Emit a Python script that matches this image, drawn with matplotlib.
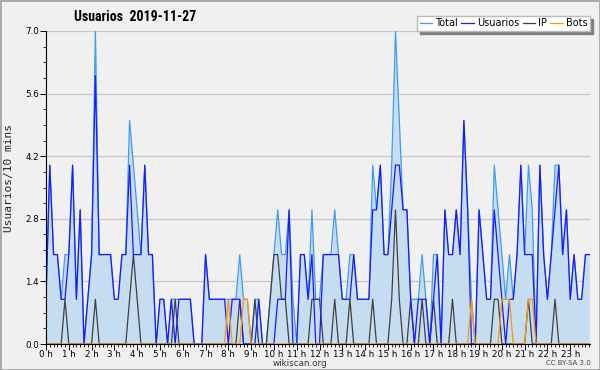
import numpy as np
import matplotlib
matplotlib.use("Agg")
import matplotlib.pyplot as plt
from matplotlib.patches import Rectangle
from matplotlib.ticker import MultipleLocator, FixedLocator
from matplotlib import font_manager

# 10-minute slots, 2019-11-27
total = [1, 4, 2, 2, 1, 2, 2, 4, 1, 3,
         0, 1, 2, 7, 2, 2, 2, 2, 1, 1,
         2, 2, 5, 4, 3, 2, 4, 2, 2, 0,
         1, 1, 0, 1, 1, 1, 1, 1, 1, 0,
         0, 0, 2, 1, 1, 1, 1, 1, 1, 1,
         1, 2, 1, 1, 0, 1, 1, 0, 0, 1,
         2, 3, 2, 2, 3, 1, 0, 2, 2, 1,
         3, 1, 1, 2, 2, 2, 3, 2, 1, 1,
         2, 2, 1, 1, 1, 1, 4, 3, 4, 2,
         2, 4, 7, 5, 3, 3, 1, 1, 1, 2,
         1, 0, 2, 2, 0, 3, 2, 2, 3, 2,
         5, 3, 1, 0, 3, 2, 1, 1, 4, 3,
         2, 1, 2, 1, 2, 4, 2, 4, 3, 0,
         4, 2, 1, 2, 4, 4, 2, 3, 1, 2,
         1, 1, 2, 2]
usuarios = [1, 4, 2, 2, 1, 1, 2, 4, 1, 3,
            0, 1, 2, 6, 2, 2, 2, 2, 1, 1,
            2, 2, 4, 2, 2, 2, 4, 2, 2, 0,
            1, 1, 0, 1, 0, 1, 1, 1, 1, 0,
            0, 0, 2, 1, 1, 1, 1, 1, 0, 1,
            1, 1, 0, 0, 0, 0, 1, 0, 0, 0,
            0, 1, 1, 1, 3, 0, 0, 2, 2, 1,
            2, 0, 0, 2, 2, 2, 2, 2, 1, 1,
            1, 2, 1, 1, 1, 1, 3, 3, 4, 2,
            2, 3, 4, 4, 3, 3, 1, 0, 1, 1,
            1, 0, 1, 2, 0, 3, 2, 2, 3, 2,
            5, 3, 0, 0, 3, 2, 1, 1, 3, 2,
            1, 0, 1, 1, 2, 4, 2, 2, 2, 0,
            4, 2, 1, 2, 3, 4, 2, 3, 1, 2,
            1, 1, 2, 2]
ip = [0] * 144
for k, v in {5: 1, 13: 1, 22: 1, 23: 2, 24: 1, 34: 1, 51: 1, 55: 1, 59: 1, 60: 2,
             61: 2, 62: 1, 63: 1, 70: 1, 71: 1, 72: 1, 76: 1, 80: 1, 86: 1, 91: 1,
             92: 3, 93: 1, 96: 1, 99: 1, 102: 1, 107: 1, 118: 1, 119: 1, 127: 1,
             134: 1}.items():
    ip[k] = v
bots = [0] * 144
for k in [48, 52, 53, 112, 120, 121, 122, 127, 128]:
    bots[k] = 1

hours = [f"{h} h" for h in range(24)]
x = np.arange(144)

# narrow font for the title if one is there
names = {f.name for f in font_manager.fontManager.ttflist}
narrow = [f for f in ["Liberation Sans Narrow", "DejaVu Sans Condensed", "Roboto Condensed"]
          if f in names]
title_font = narrow[0] if narrow else "Roboto"
title_size = 10 if narrow else 8.5

bg = "#f0f0f0"
fig = plt.figure(figsize=(6, 3.7), dpi=100, facecolor=bg)
ax = fig.add_axes([46 / 600, 26 / 370, 544 / 600, 313 / 370])
ax.set_facecolor(bg)

ax.fill_between(x, total, color="#c6dcf0", lw=0)
ax.plot(x, total, color="#3d9cf5", lw=0.9, label="Total")
ax.plot(x, ip, color="#404040", lw=0.9, label="IP")
ax.plot(x, usuarios, color="#1a1aff", lw=0.9, label="Usuarios")
ax.plot(x, bots, color="#ff9900", lw=0.9, label="Bots")

ax.set_xlim(0, 143.2)
ax.set_ylim(0, 7)
ax.yaxis.set_major_locator(FixedLocator([0, 1.4, 2.8, 4.2, 5.6, 7.0]))
ax.yaxis.set_minor_locator(MultipleLocator(0.35))
ax.set_yticklabels(["0.0", "1.4", "2.8", "4.2", "5.6", "7.0"])
ax.set_xticks(np.arange(0, 144, 6))
ax.set_xticklabels(hours)
ax.xaxis.set_minor_locator(MultipleLocator(1))
ax.tick_params(axis="both", labelsize=6.3, colors="black", length=4, width=0.7, pad=1)
ax.tick_params(axis="x", pad=0)
ax.tick_params(axis="both", which="minor", length=2.5, width=0.6)
ax.grid(axis="y", color="#c8c8c8", lw=0.9)
ax.set_axisbelow(True)
for s in ["top", "right"]:
    ax.spines[s].set_visible(False)
for s in ["left", "bottom"]:
    ax.spines[s].set_linewidth(0.8)

ax.set_ylabel("Usuarios/10 mins", family="DejaVu Sans Mono", fontsize=8, labelpad=4,
              color="#222222")
ax.yaxis.set_label_coords(-0.058, 0.53)

fig.text(74 / 600, 1 - 17 / 370, "Usuarios  2019-11-27", fontsize=title_size,
         weight="bold", family=[title_font, "DejaVu Sans"], va="center", ha="left")

h = ax.get_legend_handles_labels()
order = ["Total", "Usuarios", "IP", "Bots"]
hd = dict(zip(h[1], h[0]))
fig.legend([hd[k] for k in order], order, loc="upper right",
           bbox_to_anchor=(590 / 600, 1 - 16 / 370), ncol=4, fontsize=7,
           frameon=True, fancybox=False, framealpha=1, edgecolor="#bbbbbb",
           shadow={"color": "#808080", "alpha": 1}, handlelength=1.3,
           handletextpad=0.3, columnspacing=0.35, borderpad=0.25, borderaxespad=0)

fig.text(0.5, 1 - 363.5 / 370, "wikiscan.org", fontsize=6.3, ha="center", va="center",
         color="#333333")
fig.text(591 / 600, 1 - 363 / 370, "CC BY-SA 3.0", fontsize=5, ha="right", va="center",
         color="#444444")

fig.patches.append(Rectangle((0, 0), 1, 1, transform=fig.transFigure, fill=False,
                             edgecolor="#a8a8a8", lw=2))

fig.savefig("out.png", dpi=100, facecolor=bg)
